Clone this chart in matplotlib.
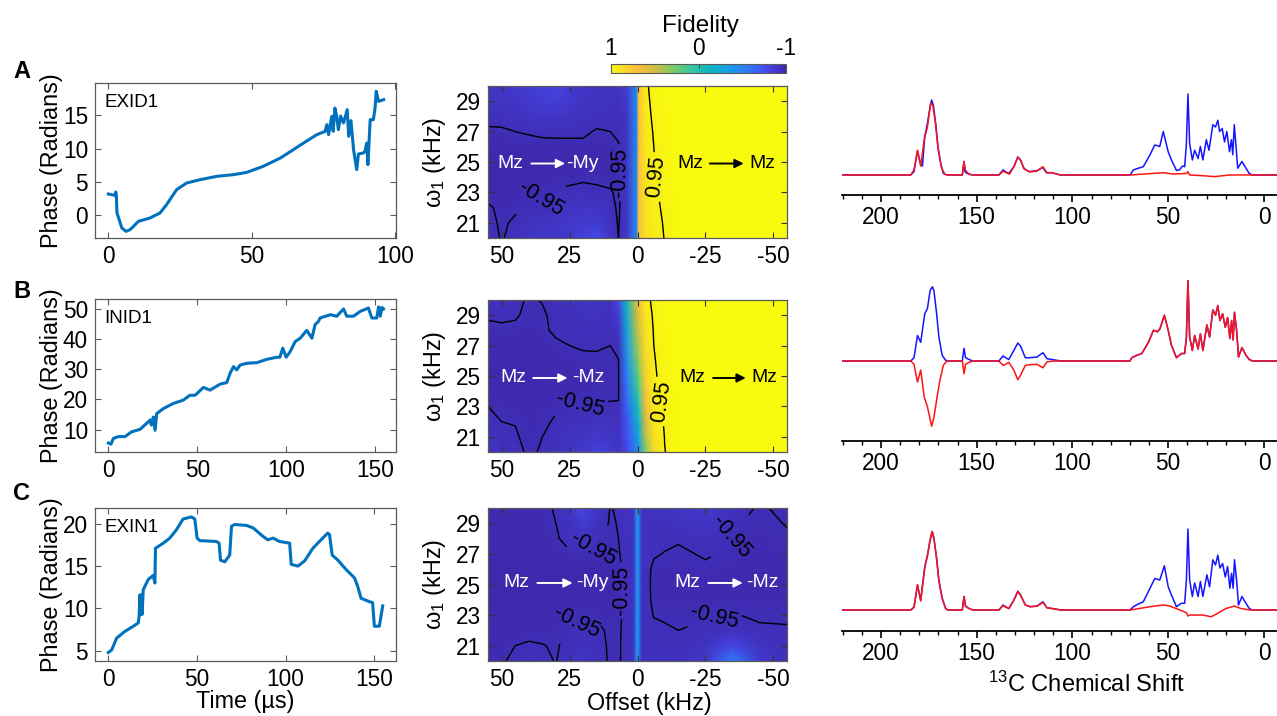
import numpy as np
import matplotlib
matplotlib.use('Agg')
import matplotlib.pyplot as plt
from matplotlib.colors import LinearSegmentedColormap

plt.rcParams['font.family'] = ['Liberation Sans', 'DejaVu Sans']
plt.rcParams['mathtext.fontset'] = 'custom'
plt.rcParams['mathtext.rm'] = 'Liberation Sans'
plt.rcParams['mathtext.it'] = 'Liberation Sans:italic'
plt.rcParams['axes.unicode_minus'] = False

# ---------------- phase profiles (time in us, phase in radians) ----------------
phase_a_t = [0, 2.3, 2.6, 2.8, 3.0, 4.7, 6.2, 7.6, 10.5, 14.5, 18, 20.3, 23.8, 27.3, 32,
             37.8, 43.6, 48.3, 54, 60, 64.5, 69, 72.7, 75.6, 76.2, 76.8, 77.9, 78.4, 79, 79.6,
             80.2, 81, 82, 83.3, 83.8, 84.6, 85.5, 86.6, 87.2, 88.9, 89.5, 90.1, 90.5, 91.3,
             92.4, 93, 93.4, 94.2, 96]
phase_a_val = [3.2, 3.0, 3.5, 3.0, 0.4, -1.9, -2.4, -2.15, -0.9, -0.4, 0.35, 1.6, 3.85, 4.85, 5.35,
               5.85, 6.1, 6.45, 7.35, 8.6, 9.85, 11.1, 12.1, 12.6, 13.6, 12.1, 14.85, 12.6, 16.1, 14.9,
               12.85, 14.9, 13.85, 15.85, 11.85, 14.2, 9.85, 6.85, 9.2, 9.35, 9.6, 10.85, 7.6, 14.35,
               14.35, 16.1, 18.6, 17.1, 17.35]

phase_b_t = [0, 1.5, 2.8, 5.6, 9.4, 13.1, 17.8, 21.6, 23.5, 24.2, 25.3, 26.3, 27.2, 31, 36.6,
             42.2, 45.9, 48.8, 53.5, 57.2, 62.9, 66.6, 68.5, 70.4, 72.2, 74.1, 77.9, 83.5, 89.1, 94.7,
             96.5, 98.1, 100, 102.3, 105.1, 107.9, 111.6, 114.5, 116.3, 118.2, 119.1, 124.8, 128.5,
             132.3, 134.1, 137.9, 141.7, 146.3, 148.2, 151, 152, 153, 153.8, 154.8]
phase_b_val = [5.6, 5.2, 7.1, 7.7, 7.7, 9.3, 10.1, 12.1, 13.2, 11.5, 14.2, 9.8, 15.3, 17, 18.7,
               19.8, 21.4, 21.4, 24, 23.1, 25.1, 25.6, 28.7, 30.9, 29.8, 31.4, 32, 32.2, 33.3, 34,
               34, 37, 34, 35.9, 39.2, 40.3, 42.9, 40.3, 44.8, 45.9, 47, 48.1, 47.6, 50, 47.6,
               47.6, 49.2, 50.3, 47, 47, 50.7, 47.6, 50.5, 50]

phase_c_t = [0, 1.9, 4.7, 9.4, 14.1, 16.9, 17.4, 17.8, 18.2, 18.7, 19.1, 19.7, 22.5, 25.3, 26.3,
             26.6, 31, 34.7, 38.5, 42.2, 46.9, 48.8, 50.1, 51.6, 61, 62.5, 63.3, 65.7, 68.5, 69.5,
             71.3, 77.9, 81.7, 87.3, 90, 93, 96.6, 102.3, 103.2, 107, 110.7, 115.4, 119.1, 123.8,
             124.8, 126.3, 129.5, 134.1, 138.9, 140.7, 142.6, 147.3, 149.1, 150.1, 152.9, 154.8]
phase_c_val = [4.8, 5.1, 6.5, 7.3, 7.9, 8.3, 9.1, 11.6, 9.3, 11.6, 9.3, 12.2, 13.4, 13.9, 13.0,
               17.1, 17.7, 18.3, 19.3, 20.55, 20.8, 20.55, 18.3, 18.0, 17.9, 17.7, 15.7, 15.5, 16.3, 19.7,
               19.9, 19.8, 19.5, 18.5, 18.1, 18.3, 17.9, 17.7, 15.2, 15.0, 15.6, 17.1, 17.9, 18.9,
               18.7, 16.3, 15.7, 14.6, 13.6, 12.6, 11.2, 10.8, 10.7, 7.9, 7.9, 10.3]

# ---------------- fidelity maps: rows w1 = 30..20 kHz, columns = offsets (kHz) ----------------
offsets_ab = [55, 50, 45, 40, 35, 30, 25, 20, 15, 10, 7, 4, 0.3, -0.3, -3, -6, -10, -15, -25, -35, -45, -55]
offsets_c = [55, 50, 45, 40, 35, 30, 25, 20, 15, 10, 7, 1.5, 0.3, -0.3, -1.5, -6, -10, -15, -25, -35, -45, -55]
w1_rows = [30, 29, 28, 27, 26, 25, 24, 23, 22, 21, 20]

fid_a = [
    [-0.90, -0.90, -0.88, -0.86, -0.84, -0.82, -0.86, -0.90, -0.91, -0.92, -0.92, -0.85, -0.45, 0.70, 0.94, 0.97, 0.99, 1, 1, 1, 1, 1],
    [-0.91, -0.91, -0.90, -0.88, -0.86, -0.85, -0.88, -0.91, -0.92, -0.92, -0.93, -0.88, -0.45, 0.70, 0.935, 0.965, 0.985, 1, 1, 1, 1, 1],
    [-0.93, -0.93, -0.92, -0.91, -0.90, -0.90, -0.91, -0.92, -0.93, -0.93, -0.94, -0.90, -0.45, 0.70, 0.93, 0.96, 0.98, 0.998, 1, 1, 1, 1],
    [-0.96, -0.958, -0.95, -0.945, -0.94, -0.94, -0.94, -0.94, -0.955, -0.95, -0.94, -0.90, -0.45, 0.70, 0.92, 0.955, 0.978, 0.996, 1, 1, 1, 1],
    [-0.975, -0.975, -0.97, -0.968, -0.965, -0.963, -0.963, -0.963, -0.97, -0.968, -0.955, -0.90, -0.45, 0.70, 0.915, 0.95, 0.975, 0.995, 1, 1, 1, 1],
    [-0.98, -0.98, -0.98, -0.98, -0.978, -0.978, -0.978, -0.978, -0.978, -0.975, -0.96, -0.90, -0.45, 0.70, 0.91, 0.948, 0.972, 0.994, 1, 1, 1, 1],
    [-0.98, -0.98, -0.978, -0.975, -0.97, -0.965, -0.962, -0.958, -0.96, -0.965, -0.96, -0.90, -0.45, 0.70, 0.905, 0.945, 0.97, 0.993, 1, 1, 1, 1],
    [-0.975, -0.975, -0.97, -0.96, -0.955, -0.945, -0.94, -0.935, -0.94, -0.945, -0.96, -0.90, -0.45, 0.70, 0.90, 0.94, 0.965, 0.992, 1, 1, 1, 1],
    [-0.94, -0.965, -0.96, -0.95, -0.94, -0.92, -0.91, -0.90, -0.90, -0.93, -0.96, -0.90, -0.45, 0.70, 0.895, 0.935, 0.96, 0.99, 1, 1, 1, 1],
    [-0.93, -0.96, -0.94, -0.92, -0.91, -0.90, -0.89, -0.88, -0.86, -0.92, -0.955, -0.90, -0.45, 0.70, 0.89, 0.93, 0.955, 0.99, 1, 1, 1, 1],
    [-0.92, -0.955, -0.93, -0.91, -0.88, -0.90, -0.88, -0.83, -0.78, -0.90, -0.95, -0.88, -0.45, 0.70, 0.885, 0.925, 0.952, 0.988, 1, 1, 1, 1],
]

fid_b = [
    [-0.93, -0.93, -0.94, -0.955, -0.948, -0.93, -0.92, -0.91, -0.91, -0.92, -0.80, -0.10, 0.55, 0.65, 0.93, 0.965, 0.99, 1, 1, 1, 1, 1],
    [-0.945, -0.94, -0.945, -0.96, -0.955, -0.94, -0.93, -0.925, -0.925, -0.93, -0.85, -0.20, 0.48, 0.60, 0.91, 0.96, 0.985, 1, 1, 1, 1, 1],
    [-0.96, -0.96, -0.96, -0.965, -0.96, -0.94, -0.935, -0.93, -0.93, -0.935, -0.90, -0.30, 0.40, 0.52, 0.89, 0.955, 0.983, 1, 1, 1, 1, 1],
    [-0.97, -0.97, -0.97, -0.97, -0.965, -0.96, -0.95, -0.945, -0.945, -0.95, -0.935, -0.38, 0.32, 0.45, 0.87, 0.95, 0.98, 0.998, 1, 1, 1, 1],
    [-0.975, -0.975, -0.975, -0.975, -0.97, -0.97, -0.965, -0.96, -0.958, -0.96, -0.952, -0.46, 0.22, 0.36, 0.84, 0.945, 0.977, 0.995, 1, 1, 1, 1],
    [-0.978, -0.978, -0.978, -0.978, -0.975, -0.975, -0.972, -0.97, -0.968, -0.965, -0.96, -0.54, 0.12, 0.26, 0.80, 0.94, 0.975, 0.993, 1, 1, 1, 1],
    [-0.975, -0.975, -0.975, -0.975, -0.972, -0.97, -0.968, -0.965, -0.96, -0.96, -0.958, -0.60, 0.0, 0.15, 0.74, 0.93, 0.97, 0.99, 1, 1, 1, 1],
    [-0.95, -0.96, -0.965, -0.968, -0.965, -0.955, -0.95, -0.947, -0.945, -0.945, -0.945, -0.66, -0.12, 0.02, 0.66, 0.915, 0.962, 0.99, 1, 1, 1, 1],
    [-0.935, -0.95, -0.952, -0.965, -0.958, -0.945, -0.935, -0.93, -0.92, -0.92, -0.93, -0.72, -0.25, -0.12, 0.56, 0.90, 0.958, 0.988, 1, 1, 1, 1],
    [-0.925, -0.94, -0.945, -0.962, -0.95, -0.935, -0.92, -0.91, -0.89, -0.90, -0.92, -0.76, -0.38, -0.26, 0.44, 0.875, 0.952, 0.987, 1, 1, 1, 1],
    [-0.92, -0.93, -0.935, -0.958, -0.945, -0.925, -0.90, -0.88, -0.82, -0.87, -0.91, -0.80, -0.50, -0.40, 0.30, 0.85, 0.948, 0.985, 1, 1, 1, 1],
]

fid_c = [
    [-0.975, -0.975, -0.975, -0.97, -0.962, -0.945, -0.90, -0.80, -0.90, -0.952, -0.945, -0.90, -0.45, -0.45, -0.90, -0.92, -0.92, -0.90, -0.88, -0.93, -0.955, -0.94],
    [-0.975, -0.975, -0.975, -0.97, -0.965, -0.95, -0.915, -0.86, -0.92, -0.955, -0.948, -0.91, -0.45, -0.45, -0.91, -0.93, -0.93, -0.92, -0.91, -0.945, -0.96, -0.948],
    [-0.975, -0.975, -0.975, -0.972, -0.968, -0.955, -0.935, -0.92, -0.94, -0.96, -0.95, -0.92, -0.45, -0.45, -0.915, -0.94, -0.94, -0.945, -0.935, -0.952, -0.965, -0.955],
    [-0.975, -0.975, -0.975, -0.975, -0.972, -0.965, -0.955, -0.952, -0.958, -0.965, -0.953, -0.92, -0.45, -0.45, -0.92, -0.945, -0.952, -0.958, -0.945, -0.958, -0.968, -0.96],
    [-0.978, -0.978, -0.978, -0.978, -0.978, -0.978, -0.978, -0.978, -0.978, -0.978, -0.958, -0.92, -0.45, -0.45, -0.92, -0.96, -0.965, -0.965, -0.958, -0.965, -0.97, -0.965],
    [-0.978, -0.978, -0.978, -0.978, -0.978, -0.978, -0.978, -0.978, -0.978, -0.978, -0.958, -0.92, -0.45, -0.45, -0.92, -0.962, -0.97, -0.97, -0.968, -0.97, -0.972, -0.97],
    [-0.978, -0.978, -0.978, -0.978, -0.978, -0.978, -0.978, -0.978, -0.978, -0.978, -0.958, -0.92, -0.45, -0.45, -0.92, -0.96, -0.968, -0.968, -0.965, -0.962, -0.965, -0.965],
    [-0.975, -0.975, -0.975, -0.975, -0.975, -0.97, -0.96, -0.955, -0.955, -0.965, -0.958, -0.92, -0.45, -0.45, -0.925, -0.952, -0.955, -0.96, -0.952, -0.948, -0.955, -0.958],
    [-0.975, -0.975, -0.97, -0.962, -0.965, -0.96, -0.945, -0.935, -0.94, -0.958, -0.956, -0.92, -0.45, -0.45, -0.93, -0.94, -0.945, -0.95, -0.945, -0.93, -0.945, -0.945],
    [-0.97, -0.965, -0.95, -0.945, -0.948, -0.955, -0.935, -0.925, -0.93, -0.958, -0.955, -0.92, -0.45, -0.45, -0.93, -0.93, -0.935, -0.94, -0.92, -0.80, -0.92, -0.94],
    [-0.965, -0.955, -0.94, -0.935, -0.94, -0.952, -0.92, -0.91, -0.925, -0.958, -0.955, -0.92, -0.45, -0.45, -0.93, -0.92, -0.925, -0.93, -0.88, -0.55, -0.88, -0.93],
]

# ---------------- 13C spectra: (ppm, intensity) ----------------
spec_a_blue = [(220, 0), (184.4, 0), (182.7, 4.4), (180.9, 32), (179.2, 13), (178.3, 12), (177.1, 51),
               (175.7, 69), (174.3, 91), (173.5, 100), (172.6, 93), (171.4, 69), (170.2, 38), (168.8, 16),
               (167.4, 2), (165.3, 0), (157.5, 0), (156.6, 18), (156.1, 4.4), (154.9, 2), (152.3, 0),
               (138.4, 0), (136.2, 6.7), (134.9, 4.4), (133.2, 2), (130.6, 11), (128.5, 24), (127.1, 20),
               (125.4, 9), (122.8, 4.4), (118.5, 5.8), (115.4, 10), (113.6, 3), (110.7, 3), (106.3, 0),
               (69.9, 0), (68.2, 6.7), (65.6, 9), (63, 11), (59.5, 27), (57, 40), (54.4, 38), (52.6, 58),
               (50, 31), (48.3, 20), (45.7, 6), (44, 7), (42.6, 12), (41.4, 11), (40.5, 42), (39.7, 108),
               (38.8, 42), (37.4, 20), (36.2, 33), (34.4, 22), (33.2, 38), (31.9, 20), (30.1, 47),
               (28.7, 33), (26.7, 67), (25.3, 64), (24.1, 73), (23.2, 58), (21.8, 62), (20.6, 44),
               (19.4, 58), (18, 31), (17, 47), (16.3, 27), (15.5, 67), (14.6, 38), (13.7, 9), (11.5, 18),
               (9.4, 9), (7.7, 2), (6, 0), (-7, 0)]
spec_a_red = [(220, 0), (184.4, 0), (182.7, 7), (180.9, 33), (179.2, 12), (177.4, 47), (175.7, 64),
              (174, 96), (172.9, 93), (171.4, 67), (170.2, 36), (168.5, 11), (166.7, 1), (165.3, 0),
              (157.5, 0), (156.6, 18), (155.8, 6), (154, 1), (151.4, 0), (138.4, 0), (136.2, 5),
              (134.5, 3), (132.8, 1.3), (130.3, 12), (128.5, 24), (126.8, 18), (125.1, 7.6), (122, 4),
              (118.5, 5.3), (115.4, 11), (113.3, 3), (110.7, 3), (106.3, 0), (69.9, 0), (52.6, 3),
              (47.4, 1.3), (40.5, 2), (39.7, 4.4), (38.8, 0), (31.9, -1), (25.8, -2.2), (18, 0),
              (6, 0), (-7, 0)]

spec_b_blue = [(220, 0), (184.4, 0), (182.7, 4.4), (180.9, 34), (179.2, 25), (177.1, 63), (175.7, 70),
               (174.3, 94), (173.1, 99), (172.3, 94), (170.9, 63), (169.7, 32), (168, 7.6), (166.2, 1),
               (165, 0), (157.5, 0), (156.6, 17), (155.8, 4.4), (154, 2), (152, 0), (138.4, 0),
               (136.2, 6.7), (134.9, 4.4), (133.2, 2), (130.6, 14), (128.5, 24), (127.1, 20), (124.6, 4.4),
               (122, 4.4), (118.5, 5.3), (115.4, 11), (113.3, 3), (110.7, 2), (106, 0), (70, 0),
               (69, 4.4), (66.4, 7.6), (63.8, 10), (60.3, 25), (57.7, 41), (55.6, 39), (54.3, 43), (52, 61),
               (50, 41), (48.3, 21), (45.7, 4.4), (43.1, 10), (41.4, 10), (40.5, 32), (39.7, 107),
               (38.8, 32), (37.4, 14), (36.2, 34), (34.4, 16), (33.2, 36), (31.9, 14), (29.8, 48),
               (28.4, 32), (26.7, 68), (25.3, 61), (24.1, 74), (23, 54), (21.6, 63), (20.2, 45), (19, 58),
               (17.8, 30), (16.9, 54), (16.1, 28), (15.4, 65), (14.3, 41), (13.3, 5.3), (11.5, 18),
               (9.4, 7.6), (7.7, 2), (6, 0), (-7, 0)]
spec_b_red = [(220, 0), (184.4, 0), (182.7, -4.4), (180.9, -28), (179.2, -12), (177.4, -48), (175.7, -61),
              (173.5, -87), (172.3, -75), (170.9, -52), (169.2, -26), (167.4, -5.8), (165.7, -0.4),
              (165, 0), (157.5, 0), (156.6, -17), (155.8, -4.4), (154, -1.8), (152, 0), (138.4, 0),
              (136.2, -5.8), (134.9, -4.4), (133.2, -1.8), (130.6, -12), (128.5, -25), (127.1, -19),
              (124.6, -5.8), (122, -4.9), (118.5, -4.4), (115.4, -9), (113.3, -1.3), (110, 0), (70, 0),
              (69, 4.4), (66.4, 7.6), (63.8, 10), (60.3, 25), (57.7, 41), (55.6, 39), (54.3, 43), (52, 61),
              (50, 41), (48.3, 21), (45.7, 4.4), (43.1, 10), (41.4, 10), (40.5, 32), (39.7, 107),
              (38.8, 32), (37.4, 14), (36.2, 34), (34.4, 16), (33.2, 36), (31.9, 14), (29.8, 48),
              (28.4, 32), (26.7, 68), (25.3, 61), (24.1, 74), (23, 54), (21.6, 63), (20.2, 45), (19, 58),
              (17.8, 30), (16.9, 54), (16.1, 28), (15.4, 65), (14.3, 41), (13.3, 5.3), (11.5, 18),
              (9.4, 7.6), (7.7, 2), (6, 0), (-7, 0)]

spec_c_blue = [(220, 0), (184.4, 0), (182.7, 3.6), (180.9, 33), (179.2, 13), (177.1, 58), (175.7, 73),
               (174.3, 93), (173.1, 104), (172.3, 96), (170.9, 69), (169.7, 40), (168, 16), (166.2, 2),
               (165, 0), (157.5, 0), (156.6, 18), (155.8, 5.3), (154, 2), (152, 0), (138.4, 0),
               (136.2, 6.7), (134.9, 4.4), (133.2, 2), (130.6, 13), (128.5, 25), (127.1, 20), (124.6, 6.7),
               (122, 4.4), (118.5, 5.3), (115.4, 11), (113.3, 3), (110.7, 2), (106, 0), (70, 0),
               (68.2, 4.4), (65.6, 8), (63, 11), (59.5, 29), (57, 42), (54.4, 40), (52, 59), (50, 31),
               (48.3, 20), (45.7, 4.4), (43.1, 9), (41.4, 9), (40.5, 40), (39.7, 108), (38.8, 40),
               (37.4, 18), (36.2, 36), (34.4, 18), (33.2, 38), (31.9, 18), (29.8, 47), (28.4, 31),
               (26.7, 67), (25.3, 60), (24.1, 73), (23, 56), (21.6, 62), (20.2, 44), (19, 58), (17.8, 29),
               (16.9, 49), (16.1, 29), (15.4, 67), (14.3, 40), (13.3, 6.7), (11.5, 18), (9.4, 9), (7.7, 2),
               (6, 0), (-7, 0)]
spec_c_red = [(220, 0), (184.4, 0), (182.7, 4), (180.9, 34), (179.2, 12), (177.1, 56), (175.7, 72),
              (174.3, 94), (173.3, 105), (172.3, 95), (170.9, 68), (169.7, 38), (168, 15), (166.2, 2),
              (165, 0), (157.5, 0), (156.6, 18), (155.8, 5), (154, 2), (152, 0), (138.4, 0), (136.2, 6),
              (134.9, 4), (133.2, 2), (130.6, 13), (128.5, 25), (127.1, 20), (124.6, 6.7), (122, 4.4),
              (118.5, 5), (115.4, 10), (113.3, 3), (110.7, 2), (106, 0), (69.9, 0), (59.5, 4.4),
              (52.6, 6.7), (49.2, 5.3), (44.9, 1), (40.5, -3.6), (39.7, -8), (38.8, -6.7), (31.9, -6.7),
              (27.6, -9), (25.8, -6.7), (19.8, 2), (15.5, 5.3), (12, 2), (7.7, 0), (-7, 0)]

# parula-like colour map (dark blue -> yellow)
parula_pts = [(0.00, (0.242, 0.150, 0.660)), (0.12, (0.275, 0.300, 0.950)),
              (0.22, (0.180, 0.480, 0.985)), (0.33, (0.090, 0.620, 0.890)),
              (0.44, (0.055, 0.715, 0.760)), (0.55, (0.230, 0.785, 0.600)),
              (0.66, (0.530, 0.795, 0.390)), (0.76, (0.835, 0.740, 0.245)),
              (0.85, (0.990, 0.740, 0.240)), (0.93, (0.970, 0.860, 0.150)),
              (1.00, (0.976, 0.983, 0.054))]
parula = LinearSegmentedColormap.from_list('parula_like', parula_pts)

W, H = 1277, 716
fig = plt.figure(figsize=(W / 100, H / 100), dpi=100)


def box(x0, y0, x1, y1):
    return [x0 / W, 1 - y1 / H, (x1 - x0) / W, (y1 - y0) / H]


FRAME = '#5a5a5a'
TICK_FS = 16.3
LABEL_FS = 16.8

# ---------------- column 1: phase ----------------
phase_panels = [
    (box(95, 83, 396, 238), phase_a_t, phase_a_val, (-4.65, 100.3), (-3.4, 19.85), [0, 50, 100], [0, 5, 10, 15], 'EXID1'),
    (box(95, 299, 396, 452), phase_b_t, phase_b_val, (-7.5, 161.8), (2.6, 53.3), [0, 50, 100, 150], [10, 20, 30, 40, 50], 'INID1'),
    (box(95, 508, 396, 661), phase_c_t, phase_c_val, (-7.5, 162.3), (3.8, 21.85), [0, 50, 100, 150], [5, 10, 15, 20], 'EXIN1'),
]
phase_axes = []
for rect, t, v, xl, yl, xt, yt, name in phase_panels:
    ax = fig.add_axes(rect)
    ax.plot(t, v, color='#0072BD', lw=2.2, solid_joinstyle='round')
    ax.set_xlim(*xl)
    ax.set_ylim(*yl)
    ax.set_xticks(xt)
    ax.set_yticks(yt)
    ax.tick_params(direction='in', top=True, right=True, length=4, width=0.8,
                   color=FRAME, labelsize=TICK_FS, pad=5)
    for s in ax.spines.values():
        s.set_color(FRAME)
        s.set_linewidth(0.9)
    ax.text(0.03, 0.93, name, transform=ax.transAxes, fontsize=13.5, va='top', ha='left')
    ax.set_ylabel('Phase (Radians)', fontsize=LABEL_FS)
    ax.yaxis.set_label_coords(-0.105, 0.5)
    phase_axes.append(ax)
phase_axes[-1].set_xlabel('Time (µs)', fontsize=LABEL_FS)
phase_axes[-1].xaxis.set_label_coords(0.5, -0.19)

# ---------------- column 2: fidelity maps ----------------
map_panels = [
    (box(488, 86, 787, 238), offsets_ab, fid_a, [(35, 22.4), (6.6, 24.3), (-6.0, 24.0)],
     [('Mz', 0.033, 'white'), ('-My', 0.262, 'white'), (0.145, 0.258)],
     [('Mz', 0.632, 'black'), ('Mz', 0.874, 'black'), (0.742, 0.855)], 0.49),
    (box(488, 300, 787, 452), offsets_ab, fid_b, [(21, 23.0), (-7.8, 23.3)],
     [('Mz', 0.040, 'white'), ('-Mz', 0.280, 'white'), (0.151, 0.266)],
     [('Mz', 0.639, 'black'), ('Mz', 0.881, 'black'), (0.753, 0.862)], 0.487),
    (box(488, 508, 787, 661), offsets_c, fid_c, [(18.5, 28.2), (6.4, 24.6), (22.5, 22.5), (-36, 27.9), (-28, 23.0)],
     [('Mz', 0.050, 'white'), ('-My', 0.296, 'white'), (0.165, 0.283)],
     [('Mz', 0.625, 'white'), ('-Mz', 0.864, 'white'), (0.737, 0.852)], 0.51),
]

w1_asc = np.array(w1_rows)[::-1]
map_axes = []
for rect, offs, grid, lab_pos, left_flow, right_flow, yflow in map_panels:
    ax = fig.add_axes(rect)
    off_asc = np.array(offs)[::-1]
    z = np.array(grid)[::-1, ::-1]
    pcm = ax.pcolormesh(off_asc, w1_asc, z, shading='gouraud', cmap=parula, vmin=-1, vmax=1)
    levels = [lv for lv in (-0.95, 0.95) if z.min() < lv < z.max()]
    cs = ax.contour(off_asc, w1_asc, z, levels=levels, colors='k', linewidths=1.0,
                    linestyles='solid')
    ax.clabel(cs, fmt='%.2f', fontsize=15.5, manual=lab_pos, inline=True, inline_spacing=4)
    ax.set_xlim(55, -55)
    ax.set_ylim(20, 30)
    ax.set_xticks([50, 25, 0, -25, -50])
    ax.set_yticks([21, 23, 25, 27, 29])
    ax.tick_params(direction='in', top=True, right=True, length=4, width=0.8,
                   color='#333333', labelsize=TICK_FS, pad=5)
    for s in ax.spines.values():
        s.set_color(FRAME)
        s.set_linewidth(0.9)
    ax.set_ylabel('ω$_1$ (kHz)', fontsize=LABEL_FS)
    ax.yaxis.set_label_coords(-0.135, 0.5)
    for flow in (left_flow, right_flow):
        (t1, x1, col), (t2, x2, _), (a0, a1) = flow
        ax.text(x1, yflow, t1, transform=ax.transAxes, color=col, fontsize=14, va='center', ha='left')
        ax.text(x2, yflow, t2, transform=ax.transAxes, color=col, fontsize=14, va='center', ha='left')
        ax.annotate('', xy=(a1, yflow), xytext=(a0, yflow), xycoords='axes fraction',
                    arrowprops=dict(arrowstyle='-|>', color=col, lw=1.4, mutation_scale=13,
                                    shrinkA=0, shrinkB=0))
    map_axes.append(ax)
map_axes[-1].set_xlabel('Offset (kHz)', fontsize=LABEL_FS)
map_axes[-1].xaxis.set_label_coords(0.54, -0.2)

# colour bar
cax = fig.add_axes(box(611, 64, 786, 73))
cb = fig.colorbar(pcm, cax=cax, orientation='horizontal')
cax.invert_xaxis()
cax.xaxis.set_ticks_position('top')
cb.set_ticks([1, 0, -1])
cb.set_ticklabels(['1', '0', '-1'])
cax.tick_params(direction='in', length=3, width=0.7, color='#444444', labelsize=TICK_FS, pad=3)
cb.outline.set_edgecolor(FRAME)
cb.outline.set_linewidth(0.8)
fig.text(700 / W, 1 - 26 / H, 'Fidelity', fontsize=17.5, ha='center', va='center')

# ---------------- column 3: 13C spectra ----------------
spec_panels = [
    (box(842, 85, 1277, 195), spec_a_blue, spec_a_red, (-26.7, 120)),
    (box(842, 275, 1277, 441), spec_b_blue, spec_b_red, (-106.7, 114.7)),
    (box(842, 515, 1277, 631), spec_c_blue, spec_c_red, (-28, 126.7)),
]
spec_axes = []
for rect, blue, red, yl in spec_panels:
    ax = fig.add_axes(rect)
    bp, bi = np.array(blue).T
    rp, ri = np.array(red).T
    ax.plot(bp, bi, color='#1414ff', lw=1.1)
    ax.plot(rp, ri, color='#ff1414', lw=1.1)
    ax.set_xlim(220.3, -6.8)
    ax.set_ylim(*yl)
    ax.patch.set_alpha(0)
    for s in ('top', 'right', 'left'):
        ax.spines[s].set_visible(False)
    ax.spines['bottom'].set_linewidth(1.3)
    ax.set_yticks([])
    ax.set_xticks([200, 150, 100, 50, 0])
    ax.set_xticks(np.arange(0, 221, 10), minor=True)
    ax.tick_params(axis='x', which='major', direction='out', length=5, width=1.2,
                   labelsize=TICK_FS, pad=3)
    ax.tick_params(axis='x', which='minor', direction='out', length=3, width=1.0)
    spec_axes.append(ax)
spec_axes[-1].set_xlabel('$^{13}$C Chemical Shift', fontsize=17)
spec_axes[-1].xaxis.set_label_coords(0.563, -0.35)

# panel letters
for letter, y in (('A', 72), ('B', 291), ('C', 494)):
    fig.text(22 / W, 1 - y / H, letter, fontsize=17, fontweight='bold', ha='center', va='center')

fig.savefig('out.png', dpi=100)
